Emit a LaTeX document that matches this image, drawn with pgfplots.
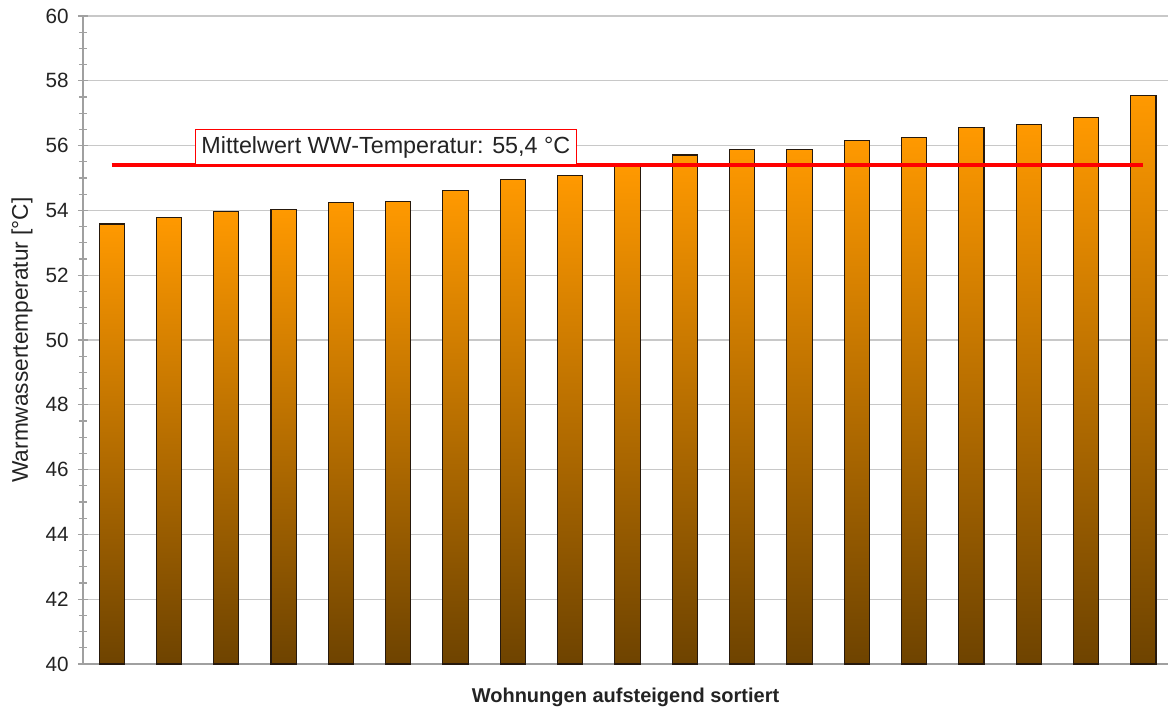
\documentclass[border=0pt]{standalone}
\usepackage{pgfplots}
\pgfplotsset{compat=1.18}
\usepackage{fontspec}
\setmainfont{Liberation Sans}
\usetikzlibrary{calc}
\definecolor{gridgray}{RGB}{200,200,200}
\definecolor{axgray}{RGB}{160,160,160}
\definecolor{barorange}{RGB}{255,153,0}
\definecolor{barmid}{RGB}{200,120,0}
\definecolor{barbrown}{RGB}{110,67,0}
\definecolor{txt}{RGB}{35,35,35}
\pgfplotsset{wbar/.style={ybar, bar shift=0pt, bar width=0.44, draw=black!80!brown, line width=0.8pt,
  top color=barorange, middle color=barmid, bottom color=barbrown}}
\begin{document}
\begin{tikzpicture}
\begin{axis}[
  name=ax,
  scale only axis,
  width=813.75pt, height=486pt,
  xmin=-0.5, xmax=18.43,
  ymin=40, ymax=60,
  ytick={40,42,...,60},
  minor y tick num=3,
  xtick=\empty,
  axis lines*=left,
  axis line style={axgray, line width=1.5pt},
  ymajorgrids,
  major grid style={gridgray, line width=0.8pt},
  tick align=center,
  major tick length=7.5pt,
  minor tick length=6pt,
  tick style={axgray, line width=0.8pt},
  /pgf/number format/assume math mode=true,
  yticklabel style={font=\fontsize{15.5pt}{18pt}\selectfont, text=txt, xshift=-3.5pt},
  ylabel={Warmwassertemperatur [°C]},
  ylabel style={font=\fontsize{17pt}{20pt}\selectfont, text=txt, at={(axis description cs:0,0.5)}, anchor=center, yshift=45.75pt},
  xlabel={\bfseries Wohnungen aufsteigend sortiert},
  xlabel style={font=\fontsize{15pt}{18pt}\selectfont, text=txt, at={(axis description cs:0.5,0)}, anchor=center, yshift=-24.75pt},
  clip=false,
]
\addplot[wbar] coordinates {(0,53.58)};
\addplot[wbar] coordinates {(1,53.79)};
\addplot[wbar] coordinates {(2,53.96)};
\addplot[wbar] coordinates {(3,54.03)};
\addplot[wbar] coordinates {(4,54.25)};
\addplot[wbar] coordinates {(5,54.27)};
\addplot[wbar] coordinates {(6,54.61)};
\addplot[wbar] coordinates {(7,54.94)};
\addplot[wbar] coordinates {(8,55.09)};
\addplot[wbar] coordinates {(9,55.36)};
\addplot[wbar] coordinates {(10,55.71)};
\addplot[wbar] coordinates {(11,55.87)};
\addplot[wbar] coordinates {(12,55.88)};
\addplot[wbar] coordinates {(13,56.15)};
\addplot[wbar] coordinates {(14,56.26)};
\addplot[wbar] coordinates {(15,56.56)};
\addplot[wbar] coordinates {(16,56.64)};
\addplot[wbar] coordinates {(17,56.86)};
\addplot[wbar] coordinates {(18,57.55)};
\addplot[red, line width=2.4pt, no marks] coordinates {(0,55.4) (18,55.4)};
\node[draw=red, line width=1pt, fill=white, anchor=south west, minimum height=26pt,
  inner xsep=4.5pt, inner ysep=0pt, font=\fontsize{17.5pt}{20pt}\selectfont, text=txt]
  at (axis cs:1.45,55.4) {Mittelwert WW-Temperatur: 55,4 °C};
\end{axis}
\pgfresetboundingbox
\path ($(ax.south west)+(-62.25pt,-33pt)$) rectangle ($(ax.north east)+(0pt,12pt)$);
\end{tikzpicture}
\end{document}
